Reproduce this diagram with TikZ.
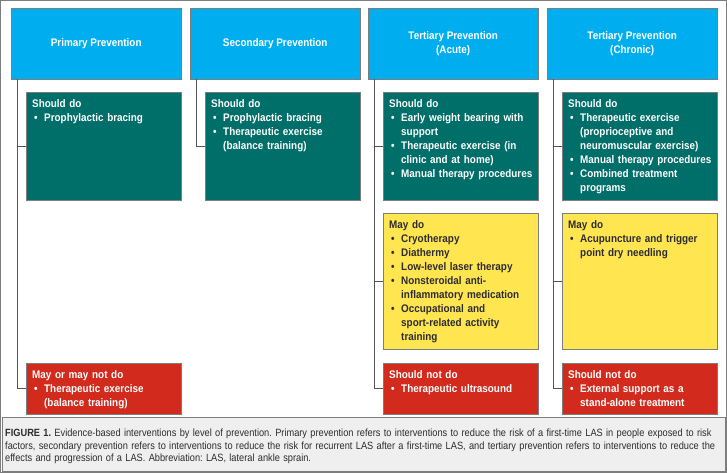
\documentclass[tikz,border=0pt]{standalone}
\usepackage{fontspec}
\setmainfont{Liberation Sans}[FakeStretch=0.9]
\newfontfamily\capfont{Liberation Sans}[FakeStretch=0.88]
\usetikzlibrary{positioning}

\definecolor{hdrblue}{RGB}{0,174,239}
\definecolor{tealgreen}{RGB}{0,110,105}
\definecolor{maybeyellow}{RGB}{255,229,80}
\definecolor{notred}{RGB}{211,42,30}
\definecolor{boxgray}{RGB}{125,125,125}
\definecolor{linegray}{RGB}{85,85,85}
\definecolor{capback}{RGB}{239,239,239}
\definecolor{darktext}{RGB}{45,45,45}

\setlength{\parindent}{0pt}
\frenchspacing
% one bullet point, wrapped lines stay under the text
\newcommand{\pitem}[1]{\par\noindent\makebox[12pt][l]{\hspace{2pt}\textbullet}%
  \parbox[t]{138pt}{\raggedright #1\par\xdef\lastdp{\the\prevdepth}}\par\prevdepth=\lastdp}

\tikzset{
  head/.style={draw=boxgray, fill=hdrblue, text=white, font=\fontsize{11}{14}\selectfont\bfseries,
    align=center, minimum width=170pt, minimum height=71pt, inner sep=0pt, anchor=north west},
  panel/.style={draw=boxgray, minimum width=155pt, inner sep=0pt, anchor=north west},
  shoulddo/.style={panel, fill=tealgreen, minimum height=108pt},
  maydo/.style={panel, fill=maybeyellow, minimum height=136pt},
  notdo/.style={panel, fill=notred, minimum height=51pt},
  words/.style={text width=150pt, align=left, inner sep=0pt, text=white,
    font=\fontsize{11}{14}\selectfont\bfseries},
  captext/.style={text width=720pt, align=left, inner sep=0pt, text=darktext, anchor=north west},
  link/.style={draw=linegray, line width=0.8pt},
}

\begin{document}
\begin{tikzpicture}[x=1pt, y=-1pt]
    \useasboundingbox (0,0) rectangle (727,473);

    % Frame and caption strip
    \draw[boxgray, line width=1pt] (0.5,0.5) rectangle (726.5,472.5);
    \draw[boxgray, fill=capback] (2,417) rectangle (725,471);

    % Level headers
    \node[head] (h1) at (11,8) {Primary Prevention};
    \node[head] (h2) at (190,8) {Secondary Prevention};
    \node[head] (h3) at (368,8) {Tertiary Prevention\\(Acute)};
    \node[head] (h4) at (547,8) {Tertiary Prevention\\(Chronic)};

    % Should do
    \node[shoulddo] (sd1) at (26,92) {};
    \node[shoulddo] (sd2) at (205,92) {};
    \node[shoulddo] (sd3) at (383,92) {};
    \node[shoulddo] (sd4) at (562,92) {};

    % May do
    \node[maydo] (md3) at (383,213) {};
    \node[maydo] (md4) at (562,213) {};

    % Should not do / may or may not do
    \node[notdo] (rd1) at (26,363) {};
    \node[notdo] (rd3) at (383,363) {};
    \node[notdo] (rd4) at (562,363) {};

    % Box texts
    \node[words, below right=7pt and 6pt of sd1.north west] (t1)
        {Should do\pitem{Prophylactic bracing}};
    \node[words, below right=7pt and 6pt of sd2.north west] (t2)
        {Should do\pitem{Prophylactic bracing}\pitem{Therapeutic exercise\\(balance training)}};
    \node[words, below right=7pt and 6pt of sd3.north west] (t3)
        {Should do\pitem{Early weight bearing with\\support}\pitem{Therapeutic exercise (in\\clinic and at home)}\pitem{Manual therapy procedures}};
    \node[words, below right=7pt and 6pt of sd4.north west] (t4)
        {Should do\pitem{Therapeutic exercise\\(proprioceptive and\\neuromuscular exercise)}\pitem{Manual therapy procedures}\pitem{Combined treatment\\programs}};
    \node[words, text=darktext, below right=7pt and 6pt of md3.north west] (m3)
        {May do\pitem{Cryotherapy}\pitem{Diathermy}\pitem{Low-level laser therapy}\pitem{Nonsteroidal anti-\\inflammatory medication}\pitem{Occupational and\\sport-related activity\\training}};
    \node[words, text=darktext, below right=7pt and 6pt of md4.north west] (m4)
        {May do\pitem{Acupuncture and trigger\\point dry needling}};
    \node[words, below right=7pt and 6pt of rd1.north west] (r1)
        {May or may not do\pitem{Therapeutic exercise\\(balance training)}};
    \node[words, below right=7pt and 6pt of rd3.north west] (r3)
        {Should not do\pitem{Therapeutic ultrasound}};
    \node[words, below right=7pt and 6pt of rd4.north west] (r4)
        {Should not do\pitem{External support as a\\stand-alone treatment}};

    % Connectors from headers
    \draw[link] ([xshift=6pt]h1.south west) |- (sd1.west);
    \draw[link] ([xshift=6pt]h1.south west) |- (rd1.west);
    \draw[link] ([xshift=6pt]h2.south west) |- (sd2.west);
    \draw[link] ([xshift=6pt]h3.south west) |- (sd3.west);
    \draw[link] ([xshift=6pt]h3.south west) |- (md3.west);
    \draw[link] ([xshift=6pt]h3.south west) |- (rd3.west);
    \draw[link] ([xshift=6pt]h4.south west) |- (sd4.west);
    \draw[link] ([xshift=6pt]h4.south west) |- (md4.west);
    \draw[link] ([xshift=6pt]h4.south west) |- (rd4.west);

    % Caption
    \node[captext] (cap) at (5,429)
        {\capfont\fontsize{10.5}{12.3}\selectfont
         {\bfseries FIGURE 1.} Evidence-based interventions by level of prevention. Primary prevention refers to interventions to reduce the risk of a first-time LAS in people exposed to risk\\
         factors, secondary prevention refers to interventions to reduce the risk for recurrent LAS after a first-time LAS, and tertiary prevention refers to interventions to reduce the\\
         effects and progression of a LAS. Abbreviation: LAS, lateral ankle sprain.};
\end{tikzpicture}
\end{document}
